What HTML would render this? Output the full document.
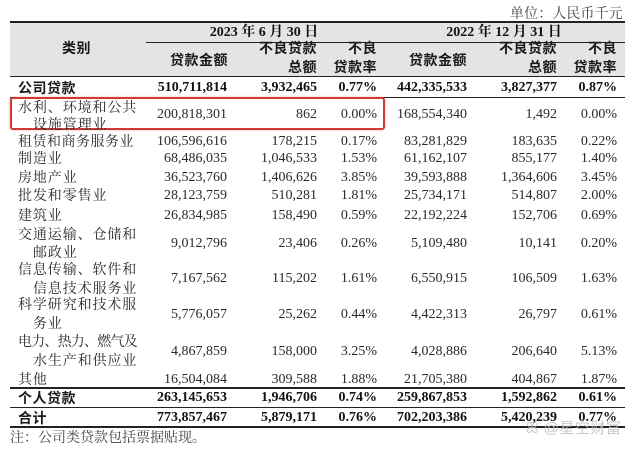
<!DOCTYPE html>
<html><head><meta charset="utf-8">
<style>
html,body{margin:0;padding:0;background:#fff;}
body{width:640px;height:451px;position:relative;overflow:hidden;
font-family:"Liberation Serif","Noto Serif CJK SC",serif;color:#2a2a2a;}
.t{position:absolute;line-height:18px;height:18px;white-space:nowrap;font-size:14px;}
.r{text-align:right;}
.hd{font-family:"Liberation Sans","Noto Sans CJK SC",sans-serif;font-weight:bold;color:#1a1a1a;font-size:14px;letter-spacing:0.5px;}
.b{font-weight:bold;color:#111;}
.lab{letter-spacing:0.9px;}
.ln{position:absolute;background:#222;}
</style></head><body>
<div style="position:absolute;left:10px;top:22px;width:615px;height:54px;background:#e4e4e4;"></div>
<div class="ln" style="left:10px;top:21px;width:615px;height:1.5px;"></div>
<div class="ln" style="left:146px;top:42px;width:479px;height:1px;"></div>
<div class="ln" style="left:10px;top:76px;width:615px;height:1px;"></div>
<div class="ln" style="left:10px;top:96.5px;width:615px;height:1px;"></div>
<div class="ln" style="left:10px;top:387px;width:615px;height:2px;"></div>
<div class="ln" style="left:10px;top:406.5px;width:615px;height:1px;"></div>
<div class="ln" style="left:10px;top:426px;width:615px;height:2px;"></div>

<div class="t" style="left:510px;top:6px;color:#444;letter-spacing:0.1px;">单位：人民币千元</div>

<div class="t hd" style="left:62px;top:39px;">类别</div>
<div class="t b" style="left:204px;top:24px;width:120px;text-align:center;">2023 年 6 月 30 日</div>
<div class="t b" style="left:443px;top:24px;width:122px;text-align:center;">2022 年 12 月 31 日</div>

<div class="t hd r" style="right:412px;top:51px;">贷款金额</div>
<div class="t hd r" style="right:323px;top:39px;">不良贷款</div>
<div class="t hd r" style="right:323px;top:58px;">总额</div>
<div class="t hd r" style="right:263px;top:39px;">不良</div>
<div class="t hd r" style="right:263px;top:58px;">贷款率</div>
<div class="t hd r" style="right:173px;top:51px;">贷款金额</div>
<div class="t hd r" style="right:83px;top:39px;">不良贷款</div>
<div class="t hd r" style="right:83px;top:58px;">总额</div>
<div class="t hd r" style="right:23px;top:39px;">不良</div>
<div class="t hd r" style="right:23px;top:58px;">贷款率</div>

<!-- red box -->
<div style="position:absolute;left:10px;top:97px;width:371px;height:29px;border:2px solid #cf3b34;border-radius:3px;box-shadow:0 0 2px rgba(200,60,50,0.4);"></div>

<!-- labels -->
<div class="t hd" style="left:18px;top:79px;">公司贷款</div>
<div class="t lab" style="left:18px;top:100px;">水利、环境和公共</div>
<div class="t lab" style="left:33px;top:117px;">设施管理业</div>
<div class="t lab" style="left:18px;top:134px;letter-spacing:0.5px;">租赁和商务服务业</div>
<div class="t lab" style="left:18px;top:151px;">制造业</div>
<div class="t lab" style="left:18px;top:170px;">房地产业</div>
<div class="t lab" style="left:18px;top:188px;">批发和零售业</div>
<div class="t lab" style="left:18px;top:208px;">建筑业</div>
<div class="t lab" style="left:18px;top:227px;">交通运输、仓储和</div>
<div class="t lab" style="left:33px;top:245px;">邮政业</div>
<div class="t lab" style="left:18px;top:262px;">信息传输、软件和</div>
<div class="t lab" style="left:33px;top:281px;">信息技术服务业</div>
<div class="t lab" style="left:18px;top:297px;">科学研究和技术服</div>
<div class="t lab" style="left:33px;top:316px;">务业</div>
<div class="t" style="left:18px;top:334px;letter-spacing:-0.8px;">电力、热力、燃气及</div>
<div class="t lab" style="left:33px;top:353px;">水生产和供应业</div>
<div class="t lab" style="left:18px;top:372px;">其他</div>
<div class="t hd" style="left:18px;top:389px;">个人贷款</div>
<div class="t hd" style="left:18px;top:409px;">合计</div>
<div class="t" style="left:10px;top:430px;color:#444;">注：公司类贷款包括票据贴现。</div>

<!-- numbers -->
<div class="t r b" style="right:413px;top:79px;">510,711,814</div>
<div class="t r b" style="right:323px;top:79px;">3,932,465</div>
<div class="t r b" style="right:263px;top:79px;">0.77%</div>
<div class="t r b" style="right:173px;top:79px;">442,335,533</div>
<div class="t r b" style="right:83px;top:79px;">3,827,377</div>
<div class="t r b" style="right:23px;top:79px;">0.87%</div>

<div class="t r" style="right:413px;top:106px;">200,818,301</div>
<div class="t r" style="right:323px;top:106px;">862</div>
<div class="t r" style="right:263px;top:106px;">0.00%</div>
<div class="t r" style="right:173px;top:106px;">168,554,340</div>
<div class="t r" style="right:83px;top:106px;">1,492</div>
<div class="t r" style="right:23px;top:106px;">0.00%</div>

<div class="t r" style="right:413px;top:133px;">106,596,616</div>
<div class="t r" style="right:323px;top:133px;">178,215</div>
<div class="t r" style="right:263px;top:133px;">0.17%</div>
<div class="t r" style="right:173px;top:133px;">83,281,829</div>
<div class="t r" style="right:83px;top:133px;">183,635</div>
<div class="t r" style="right:23px;top:133px;">0.22%</div>

<div class="t r" style="right:413px;top:150px;">68,486,035</div>
<div class="t r" style="right:323px;top:150px;">1,046,533</div>
<div class="t r" style="right:263px;top:150px;">1.53%</div>
<div class="t r" style="right:173px;top:150px;">61,162,107</div>
<div class="t r" style="right:83px;top:150px;">855,177</div>
<div class="t r" style="right:23px;top:150px;">1.40%</div>

<div class="t r" style="right:413px;top:169px;">36,523,760</div>
<div class="t r" style="right:323px;top:169px;">1,406,626</div>
<div class="t r" style="right:263px;top:169px;">3.85%</div>
<div class="t r" style="right:173px;top:169px;">39,593,888</div>
<div class="t r" style="right:83px;top:169px;">1,364,606</div>
<div class="t r" style="right:23px;top:169px;">3.45%</div>

<div class="t r" style="right:413px;top:187px;">28,123,759</div>
<div class="t r" style="right:323px;top:187px;">510,281</div>
<div class="t r" style="right:263px;top:187px;">1.81%</div>
<div class="t r" style="right:173px;top:187px;">25,734,171</div>
<div class="t r" style="right:83px;top:187px;">514,807</div>
<div class="t r" style="right:23px;top:187px;">2.00%</div>

<div class="t r" style="right:413px;top:207px;">26,834,985</div>
<div class="t r" style="right:323px;top:207px;">158,490</div>
<div class="t r" style="right:263px;top:207px;">0.59%</div>
<div class="t r" style="right:173px;top:207px;">22,192,224</div>
<div class="t r" style="right:83px;top:207px;">152,706</div>
<div class="t r" style="right:23px;top:207px;">0.69%</div>

<div class="t r" style="right:413px;top:235px;">9,012,796</div>
<div class="t r" style="right:323px;top:235px;">23,406</div>
<div class="t r" style="right:263px;top:235px;">0.26%</div>
<div class="t r" style="right:173px;top:235px;">5,109,480</div>
<div class="t r" style="right:83px;top:235px;">10,141</div>
<div class="t r" style="right:23px;top:235px;">0.20%</div>

<div class="t r" style="right:413px;top:270px;">7,167,562</div>
<div class="t r" style="right:323px;top:270px;">115,202</div>
<div class="t r" style="right:263px;top:270px;">1.61%</div>
<div class="t r" style="right:173px;top:270px;">6,550,915</div>
<div class="t r" style="right:83px;top:270px;">106,509</div>
<div class="t r" style="right:23px;top:270px;">1.63%</div>

<div class="t r" style="right:413px;top:306px;">5,776,057</div>
<div class="t r" style="right:323px;top:306px;">25,262</div>
<div class="t r" style="right:263px;top:306px;">0.44%</div>
<div class="t r" style="right:173px;top:306px;">4,422,313</div>
<div class="t r" style="right:83px;top:306px;">26,797</div>
<div class="t r" style="right:23px;top:306px;">0.61%</div>

<div class="t r" style="right:413px;top:343px;">4,867,859</div>
<div class="t r" style="right:323px;top:343px;">158,000</div>
<div class="t r" style="right:263px;top:343px;">3.25%</div>
<div class="t r" style="right:173px;top:343px;">4,028,886</div>
<div class="t r" style="right:83px;top:343px;">206,640</div>
<div class="t r" style="right:23px;top:343px;">5.13%</div>

<div class="t r" style="right:413px;top:371px;">16,504,084</div>
<div class="t r" style="right:323px;top:371px;">309,588</div>
<div class="t r" style="right:263px;top:371px;">1.88%</div>
<div class="t r" style="right:173px;top:371px;">21,705,380</div>
<div class="t r" style="right:83px;top:371px;">404,867</div>
<div class="t r" style="right:23px;top:371px;">1.87%</div>

<div class="t r b" style="right:413px;top:389px;">263,145,653</div>
<div class="t r b" style="right:323px;top:389px;">1,946,706</div>
<div class="t r b" style="right:263px;top:389px;">0.74%</div>
<div class="t r b" style="right:173px;top:389px;">259,867,853</div>
<div class="t r b" style="right:83px;top:389px;">1,592,862</div>
<div class="t r b" style="right:23px;top:389px;">0.61%</div>

<div class="t r b" style="right:413px;top:409px;">773,857,467</div>
<div class="t r b" style="right:323px;top:409px;">5,879,171</div>
<div class="t r b" style="right:263px;top:409px;">0.76%</div>
<div class="t r b" style="right:173px;top:409px;">702,203,386</div>
<div class="t r b" style="right:83px;top:409px;">5,420,239</div>
<div class="t r b" style="right:23px;top:409px;">0.77%</div>

<!-- watermark -->
<div class="t" style="left:526px;top:420px;font-family:'Liberation Sans','Noto Sans CJK SC',sans-serif;font-size:15px;color:rgba(190,190,190,0.85);letter-spacing:0.5px;">ꕤ @星空财富</div>
</body></html>
